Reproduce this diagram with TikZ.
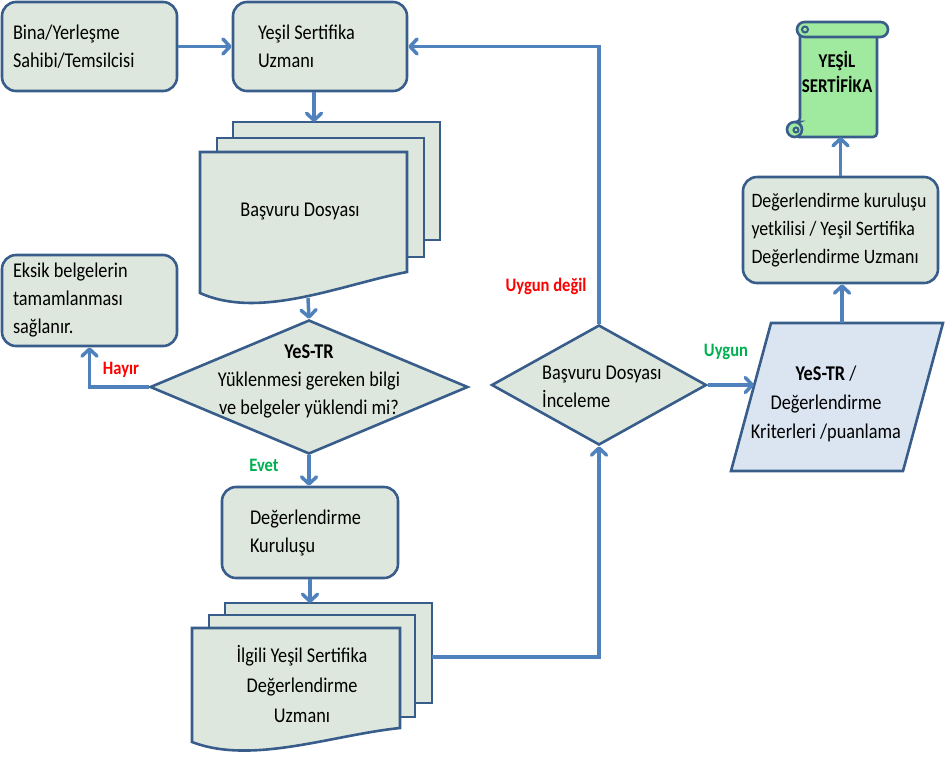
\documentclass[tikz,border=0pt]{standalone}
\usepackage{fontspec}
\setmainfont{Carlito}[FakeStretch=0.87]
\usetikzlibrary{shapes.geometric,arrows.meta}
\definecolor{bord}{RGB}{56,93,138}
\definecolor{arr}{RGB}{79,129,189}
\definecolor{boxfill}{RGB}{221,231,221}
\definecolor{parfill}{RGB}{219,229,241}
\definecolor{scrollfill}{RGB}{160,234,160}
\definecolor{redlab}{RGB}{255,0,0}
\definecolor{greenlab}{RGB}{0,176,80}
\newcommand\mfont{\fontsize{21pt}{28pt}\selectfont}
\newcommand\lfont{\fontsize{19pt}{23pt}\selectfont\bfseries}
\begin{document}
\begin{tikzpicture}[x=1pt,y=-1pt,
  rbox/.style={draw=bord,line width=2.6pt,fill=boxfill,rounded corners=14pt,inner sep=0pt,font=\mfont,align=flush left},
  shp/.style={draw=bord,line width=2.6pt,fill=boxfill},
  scr/.style={draw=bord,line width=2.6pt,fill=scrollfill},
  txt/.style={inner sep=0pt,font=\mfont,align=center},
  flow/.style={draw=arr,line width=3.5pt,-{Straight Barb[length=7pt,width=15pt,round]}},
  lab/.style={inner sep=0pt,font=\lfont}]
\useasboundingbox (0,0) rectangle (950,756);

% top row
\node[rbox,minimum width=175pt,minimum height=89pt,text width=153pt] (owner) at (89.5,46.5) {Bina/Yerleşme\\Sahibi/Temsilcisi};
\node[rbox,minimum width=174pt,minimum height=89pt,text width=124pt] (spec) at (320,46.5) {Yeşil Sertifika\\Uzmanı};

% Basvuru Dosyasi (multi document)
\draw[shp] (233,122) rectangle (440,240);
\draw[shp] (217,138) rectangle (424,257);
\draw[shp] (200,152) -- (407,152) -- (407,272) .. controls (340,285) and (260,320) .. (200,293) -- cycle;
\node[txt] (basv) at (300,212) {Başvuru Dosyası};
\coordinate (basv-in) at (314,122);
\coordinate (basv-out) at (308,298);

% Eksik
\node[rbox,minimum width=175pt,minimum height=91pt,text width=153pt] (eksik) at (89.5,300.5) {Eksik belgelerin\\tamamlanması\\sağlanır.};

% decision 1
\node[shp,diamond,minimum width=318pt,minimum height=134pt,inner sep=0pt] (d1) at (309,387) {};
\node[txt] (d1t) at (309,381) {\textbf{YeS-TR}\\Yüklenmesi gereken bilgi\\ve belgeler yüklendi mi?};

% Degerlendirme Kurulusu
\node[rbox,minimum width=176pt,minimum height=91pt,text width=120pt] (kur) at (310,532.5) {Değerlendirme\\Kuruluşu};

% Ilgili ... (multi document)
\draw[shp] (225,603) rectangle (432,703);
\draw[shp] (209,615) rectangle (415,717);
\draw[shp] (192,628) -- (400,628) -- (400,728) .. controls (332,735) and (252,765) .. (192,742) -- cycle;
\node[txt,font=\fontsize{21pt}{30pt}\selectfont] (ilg) at (302,684) {İlgili Yeşil Sertifika\\Değerlendirme\\Uzmanı};
\coordinate (ilg-in) at (309,603);
\coordinate (ilg-out) at (432,657);

% decision 2
\node[shp,diamond,minimum width=215pt,minimum height=120pt,inner sep=0pt] (d2) at (599,385) {};
\node[txt,align=left,anchor=west] (d2t) at (542,387) {Başvuru Dosyası\\İnceleme};

% parallelogram
\draw[draw=bord,line width=2.6pt,fill=parfill] (771,323) -- (943,323) -- (903,471) -- (731,471) -- cycle;
\node[txt,font=\fontsize{21pt}{29pt}\selectfont] (crit) at (826,404) {\textbf{YeS-TR} /\\Değerlendirme\\Kriterleri /puanlama};
\coordinate (crit-in) at (754,385);
\coordinate (crit-top) at (842,323);

% evaluator box
\node[rbox,font=\fontsize{20.5pt}{28pt}\selectfont,minimum width=195pt,minimum height=106pt,text width=178pt] (ev) at (840.5,230) {Değerlendirme kuruluşu\\yetkilisi / Yeşil Sertifika\\Değerlendirme Uzmanı};

% scroll
\draw[scr,rounded corners=4pt] (800,28) -- (877,28) -- (877,137) -- (795,137) -- (795,122) -- (800,122) -- cycle;
\draw[scr] (794.5,129.5) circle[radius=7.5pt];
\draw[draw=bord,line width=2pt] (796,130) circle[radius=2.5pt];
\draw[scr,rounded corners=7.5pt] (797,22) rectangle (888,37);
\draw[draw=bord,line width=2pt] (805,29.5) circle[radius=3pt];
\node[inner sep=0pt,align=center,font=\fontsize{19.5pt}{25pt}\selectfont\bfseries] (cert) at (837,72) {YEŞİL\\SERTİFİKA};
\coordinate (cert-bot) at (839,137);

% connectors
\draw[flow] (owner.east) -- (spec.west);
\draw[flow] (spec.south -| basv-in) -- (basv-in);
\draw[flow] (basv-out) -- (d1.north);
\draw[flow] (d1.west) -| (eksik.south);
\draw[flow] (d1.south) -- (d1.south |- kur.north);
\draw[flow] (kur.south) -- (kur.south |- ilg-in);
\draw[flow] (ilg-out) -| (d2.south);
\draw[flow] (d2.north) |- (spec.east);
\draw[flow] (d2.east) -- (crit-in);
\draw[flow] (crit-top) -- (crit-top |- ev.south);
\draw[flow] (ev.north) -- (ev.north |- cert-bot);

% labels
\node[lab,text=redlab] (hayir) at (121,370) {Hayır};
\node[lab,text=greenlab] (evet) at (264,465) {Evet};
\node[lab,text=redlab] (uyd) at (546,286) {Uygun değil};
\node[lab,text=greenlab] (uyg) at (726,352) {Uygun};
\end{tikzpicture}
\end{document}
